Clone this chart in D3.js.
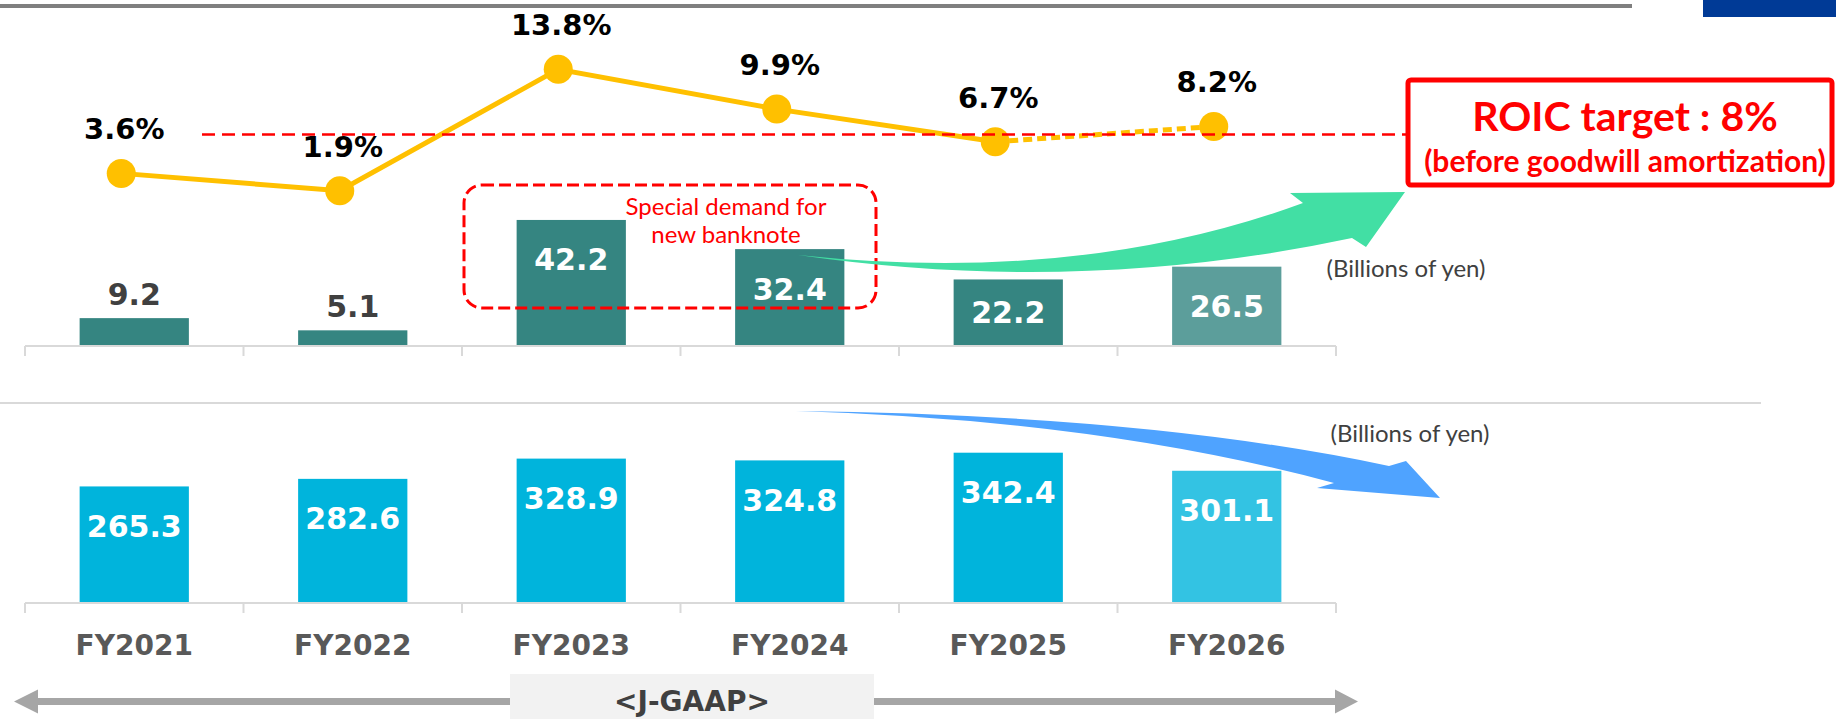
<!DOCTYPE html>
<meta charset="utf-8">
<script src="https://d3js.org/d3.v7.min.js"></script>
<style>
  body { margin: 0; background: #fff; }
</style>
<body>
<div id="chart"></div>
<script>

// ---- data ----
var years = ["FY2021", "FY2022", "FY2023", "FY2024", "FY2025", "FY2026"];
var roic = [3.6, 1.9, 13.8, 9.9, 6.7, 8.2];            // %
var income = [9.2, 5.1, 42.2, 32.4, 22.2, 26.5];       // billions of yen (top bars)
var capital = [265.3, 282.6, 328.9, 324.8, 342.4, 301.1]; // billions of yen (bottom bars)
var forecastYear = "FY2026";
var roicTarget = 8;
var targetLineLevel = 7.4;   // where the slide actually draws the dashed target line

var W = 1836, H = 719;
var numFont = "'DejaVu Sans', Verdana, sans-serif";
var txtFont = "Lato, 'Open Sans', sans-serif";

var svg = d3.select("#chart")
  .append("svg")
    .attr("width", W)
    .attr("height", H)
    .style("display", "block");

// header decorations
svg.append("line")
  .attr("x1", 0).attr("x2", 1632).attr("y1", 6).attr("y2", 6)
  .style("stroke", "#7f7f7f").style("stroke-width", 4);
svg.append("rect")
  .attr("x", 1703).attr("y", 0).attr("width", W - 1703).attr("height", 17)
  .style("fill", "#003a96");

var x = d3.scaleBand()
  .domain(years)
  .range([25, 1336])
  .paddingInner(0.5)
  .paddingOuter(0.25);

var yTop = d3.scaleLinear().domain([0, 50]).range([345.5, 196.75]);
var yBot = d3.scaleLinear().domain([0, 400]).range([602.5, 427.5]);
var yRoic = d3.scaleLinear().domain([0, 15]).range([210.1, 57.1]);

var boundaries = d3.range(years.length + 1).map(function(i) { return 25 + i * x.step(); });

function baseAxis(y0) {
  var g = svg.append("g");
  g.append("line")
    .attr("x1", 25).attr("x2", 1336).attr("y1", y0).attr("y2", y0)
    .style("stroke", "#d9d9d9").style("stroke-width", 2);
  g.selectAll("line.tick")
    .data(boundaries)
    .enter()
    .append("line")
      .attr("class", "tick")
      .attr("x1", function(d) { return d; })
      .attr("x2", function(d) { return d; })
      .attr("y1", y0)
      .attr("y2", y0 + 10)
      .style("stroke", "#d9d9d9").style("stroke-width", 2);
}

// ---------- top panel: income bars ----------
var topData = years.map(function(y, i) { return { year: y, v: income[i] }; });

svg.append("g")
  .selectAll("rect")
  .data(topData)
  .enter()
  .append("rect")
    .attr("x", function(d) { return x(d.year); })
    .attr("y", function(d) { return yTop(d.v); })
    .attr("width", x.bandwidth())
    .attr("height", function(d) { return yTop(0) - yTop(d.v); })
    .style("fill", function(d) { return d.year == forecastYear ? "#5c9e9b" : "#358581"; });

baseAxis(346);

svg.append("g")
  .selectAll("text")
  .data(topData)
  .enter()
  .append("text")
    .attr("x", function(d) { return x(d.year) + x.bandwidth() / 2; })
    .attr("y", function(d) {
      var top = yTop(d.v), base = yTop(0);
      if (base - top < 40) return top - 24;
      return Math.min(top + 40, (top + base) / 2);
    })
    .attr("text-anchor", "middle")
    .attr("dominant-baseline", "central")
    .style("font-family", numFont)
    .style("font-weight", "bold")
    .style("font-size", "30px")
    .style("fill", function(d) { return yTop(0) - yTop(d.v) < 40 ? "#404040" : "#fff"; })
    .text(function(d) { return d.v.toFixed(1); });

// special demand box
svg.append("rect")
  .attr("x", 464).attr("y", 185).attr("width", 412).attr("height", 123)
  .attr("rx", 18)
  .style("fill", "none")
  .style("stroke", "#ff0000")
  .style("stroke-width", 3)
  .style("stroke-dasharray", "12,5");
svg.append("text")
  .attr("x", 726).attr("y", 205)
  .attr("text-anchor", "middle").attr("dominant-baseline", "central")
  .style("font-family", txtFont).style("font-size", "24px").style("fill", "#ff0000")
  .text("Special demand for");
svg.append("text")
  .attr("x", 726).attr("y", 233)
  .attr("text-anchor", "middle").attr("dominant-baseline", "central")
  .style("font-family", txtFont).style("font-size", "24px").style("fill", "#ff0000")
  .text("new banknote");

// green upward arrow
svg.append("path")
  .attr("d", "M798,255 Q1080,285 1303,203 L1290,193 L1405,192 L1366,247 L1352,238 Q1080,296 798,255 Z")
  .style("fill", "#42dfa4");

// ---------- ROIC line ----------
var roicData = years.map(function(y, i) { return { year: y, v: roic[i] }; });
function px(d) { return x(d.year) + x.bandwidth() / 2 - 13; }

var lineGen = d3.line()
  .x(px)
  .y(function(d) { return yRoic(d.v); });

var fi = years.indexOf(forecastYear);
svg.append("path")
  .datum(roicData.slice(0, fi))
  .attr("d", lineGen)
  .style("fill", "none").style("stroke", "#ffc000").style("stroke-width", 5);
svg.append("path")
  .datum(roicData.slice(fi - 1, fi + 1))
  .attr("d", lineGen)
  .style("fill", "none").style("stroke", "#ffc000").style("stroke-width", 5)
  .style("stroke-dasharray", "9,5");

svg.append("g")
  .selectAll("circle")
  .data(roicData)
  .enter()
  .append("circle")
    .attr("cx", px)
    .attr("cy", function(d) { return yRoic(d.v); })
    .attr("r", 14.5)
    .style("fill", "#ffc000");

svg.append("g")
  .selectAll("text")
  .data(roicData)
  .enter()
  .append("text")
    .attr("x", function(d) { return px(d) + 3; })
    .attr("y", function(d) { return yRoic(d.v) - 44; })
    .attr("text-anchor", "middle")
    .attr("dominant-baseline", "central")
    .style("font-family", numFont)
    .style("font-weight", "bold")
    .style("font-size", "29px")
    .style("fill", "#000")
    .text(function(d) { return d.v.toFixed(1) + "%"; });

// target line + label box
svg.append("line")
  .attr("x1", 202).attr("x2", 1406)
  .attr("y1", yRoic(targetLineLevel)).attr("y2", yRoic(targetLineLevel))
  .style("stroke", "#ff0000").style("stroke-width", 2.5)
  .style("stroke-dasharray", "13,7");

svg.append("rect")
  .attr("x", 1408).attr("y", 80).attr("width", 424).attr("height", 105)
  .attr("rx", 3)
  .style("fill", "#fff").style("stroke", "#ff0000").style("stroke-width", 5);
svg.append("text")
  .attr("x", 1625).attr("y", 115)
  .attr("text-anchor", "middle").attr("dominant-baseline", "central")
  .style("font-family", txtFont).style("font-weight", "bold").style("font-size", "41px")
  .style("fill", "#ff0000")
  .text("ROIC target : " + roicTarget + "%");
svg.append("text")
  .attr("x", 1625).attr("y", 160)
  .attr("text-anchor", "middle").attr("dominant-baseline", "central")
  .style("font-family", txtFont).style("font-weight", "bold").style("font-size", "30px")
  .style("fill", "#ff0000")
  .text("(before goodwill amortization)");

svg.append("text")
  .attr("x", 1406).attr("y", 267)
  .attr("text-anchor", "middle").attr("dominant-baseline", "central")
  .style("font-family", txtFont).style("font-size", "24px").style("fill", "#404040")
  .text("(Billions of yen)");

// ---------- bottom panel: invested capital ----------
svg.append("line")
  .attr("x1", 0).attr("x2", 1761).attr("y1", 403).attr("y2", 403)
  .style("stroke", "#d9d9d9").style("stroke-width", 2);

svg.append("text")
  .attr("x", 1410).attr("y", 432)
  .attr("text-anchor", "middle").attr("dominant-baseline", "central")
  .style("font-family", txtFont).style("font-size", "24px").style("fill", "#404040")
  .text("(Billions of yen)");

var botData = years.map(function(y, i) { return { year: y, v: capital[i] }; });

svg.append("g")
  .selectAll("rect")
  .data(botData)
  .enter()
  .append("rect")
    .attr("x", function(d) { return x(d.year); })
    .attr("y", function(d) { return yBot(d.v); })
    .attr("width", x.bandwidth())
    .attr("height", function(d) { return yBot(0) - yBot(d.v); })
    .style("fill", function(d) { return d.year == forecastYear ? "#33c3e3" : "#00b4dc"; });

baseAxis(603);

svg.append("g")
  .selectAll("text")
  .data(botData)
  .enter()
  .append("text")
    .attr("x", function(d) { return x(d.year) + x.bandwidth() / 2; })
    .attr("y", function(d) { return yBot(d.v) + 40; })
    .attr("text-anchor", "middle")
    .attr("dominant-baseline", "central")
    .style("font-family", numFont)
    .style("font-weight", "bold")
    .style("font-size", "30px")
    .style("fill", "#fff")
    .text(function(d) { return d.v.toFixed(1); });

// blue downward arrow
svg.append("path")
  .attr("d", "M796,411 Q1150,415 1389,466 L1406,461 L1440,498 L1317,488 L1334,483 Q1100,420 796,411 Z")
  .style("fill", "#4fa3ff");

// category labels
svg.append("g")
  .attr("transform", "translate(0,645)")
  .call(d3.axisBottom(x).tickSize(0).tickPadding(0))
  .call(function(g) { g.select(".domain").remove(); })
  .selectAll("text")
    .attr("dy", null)
    .attr("dominant-baseline", "central")
    .style("font-family", numFont)
    .style("font-weight", "bold")
    .style("font-size", "28px")
    .style("fill", "#595959");

// J-GAAP span arrow
svg.append("line")
  .attr("x1", 36).attr("x2", 1337).attr("y1", 701.5).attr("y2", 701.5)
  .style("stroke", "#a6a6a6").style("stroke-width", 7);
svg.append("path")
  .attr("d", "M14,701.5 L38,689.5 L38,713.5 Z M1358,701.5 L1335,689.5 L1335,713.5 Z")
  .style("fill", "#a6a6a6");
svg.append("rect")
  .attr("x", 510).attr("y", 674).attr("width", 364).attr("height", 45)
  .style("fill", "#f2f2f2");
svg.append("text")
  .attr("x", 692).attr("y", 701.5)
  .attr("text-anchor", "middle").attr("dominant-baseline", "central")
  .style("font-family", numFont).style("font-weight", "bold").style("font-size", "28px")
  .style("fill", "#404040")
  .text("<J-GAAP>");

</script>
</body>
